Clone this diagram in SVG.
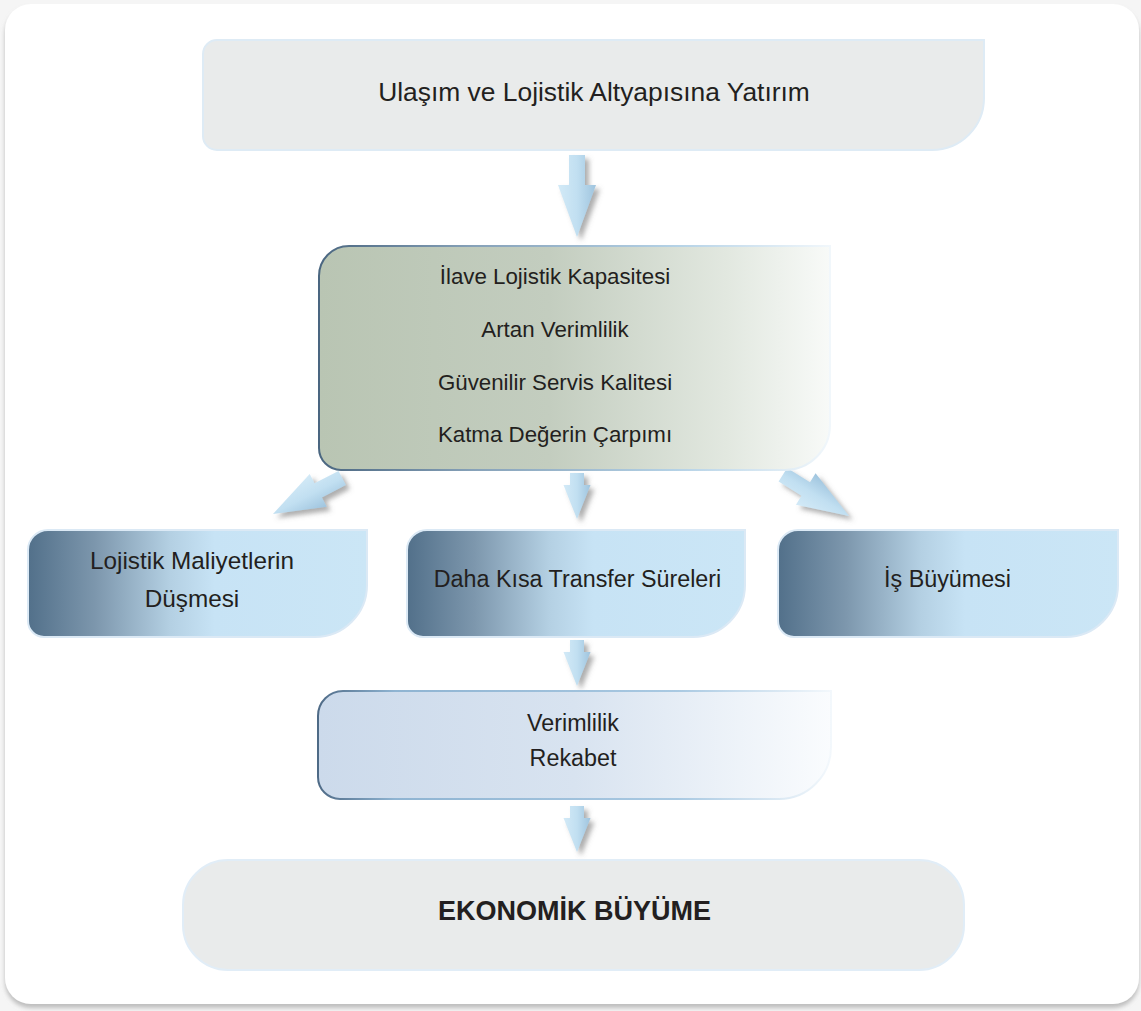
<svg xmlns="http://www.w3.org/2000/svg" width="1141" height="1011" viewBox="0 0 1141 1011">
<style>
.t{font-family:"Liberation Sans",Arial,sans-serif;fill:#231f20;text-anchor:middle}
.t1{font-size:26.4px}
.t2{font-size:22.3px}
.t3{font-size:23.3px}
.t4{font-size:24.3px}
.tb{font-size:27px;font-weight:bold}
.arr{fill:url(#gArr)}
</style>
<defs>
<linearGradient id="gArr" x1="0" y1="0" x2="1" y2="0">
<stop offset="0" stop-color="#d3eaf7"/>
<stop offset="0.5" stop-color="#c1dff1"/>
<stop offset="1" stop-color="#9fc4de"/>
</linearGradient>
<linearGradient id="gGreen" x1="0" y1="0" x2="1" y2="0">
<stop offset="0" stop-color="#b9c5b3"/>
<stop offset="0.45" stop-color="#c3cdbf"/>
<stop offset="0.8" stop-color="#e2e8e0"/>
<stop offset="1" stop-color="#f8faf8"/>
</linearGradient>
<linearGradient id="gGreenS" x1="0" y1="0" x2="1" y2="0">
<stop offset="0" stop-color="#4a6680"/>
<stop offset="0.3" stop-color="#86a1b8"/>
<stop offset="0.7" stop-color="#b5d2e6"/>
<stop offset="1" stop-color="#f1f7fb"/>
</linearGradient>
<linearGradient id="gRow" x1="0" y1="0" x2="1" y2="0">
<stop offset="0" stop-color="#52708a"/>
<stop offset="0.2" stop-color="#7d97ad"/>
<stop offset="0.42" stop-color="#b4d0e3"/>
<stop offset="0.55" stop-color="#c7e3f5"/>
<stop offset="1" stop-color="#cbe6f6"/>
</linearGradient>
<linearGradient id="gD" x1="0" y1="0" x2="1" y2="0">
<stop offset="0" stop-color="#ccdaeb"/>
<stop offset="0.5" stop-color="#d8e3f0"/>
<stop offset="1" stop-color="#fafcfe"/>
</linearGradient>
<linearGradient id="gDS" x1="0" y1="0" x2="1" y2="0">
<stop offset="0" stop-color="#4e6a86"/>
<stop offset="0.15" stop-color="#8fb4d2"/>
<stop offset="0.7" stop-color="#a9c9e2"/>
<stop offset="1" stop-color="#f3f8fc"/>
</linearGradient>
<filter id="sh" x="-50%" y="-50%" width="200%" height="200%">
<feDropShadow dx="4" dy="4" stdDeviation="2.5" flood-color="#6d6d6d" flood-opacity="0.55"/>
</filter>
<filter id="fsh" x="-5%" y="-5%" width="110%" height="110%">
<feDropShadow dx="0" dy="4" stdDeviation="2" flood-color="#9a9a9a" flood-opacity="0.6"/>
</filter>
<path id="arBig" d="M-8,-82 L8,-82 L8,-52 L19,-52 L0,0 L-19,-52 L-8,-52 Z"/>
<path id="arDiag" d="M-8,-78 L8,-78 L8,-51 L18.5,-51 L0,0 L-18.5,-51 L-8,-51 Z"/>
<path id="arSmall" d="M-7,-46 L7,-46 L7,-34 L13.5,-34 L0,0 L-13.5,-34 L-7,-34 Z"/>
</defs>

<rect x="0" y="0" width="1141" height="1011" fill="#f5f5f5"/>
<rect x="5" y="4" width="1134" height="1000" rx="26" fill="#ffffff" filter="url(#fsh)"/>

<g id="connectors">
<g filter="url(#sh)"><use href="#arBig" class="arr" transform="translate(577,237)"/></g>
<g filter="url(#sh)"><use href="#arDiag" class="arr" transform="translate(273,514) rotate(62.5)"/></g>
<g filter="url(#sh)"><use href="#arSmall" class="arr" transform="translate(577,519)"/></g>
<g filter="url(#sh)"><use href="#arDiag" class="arr" transform="translate(849,516) rotate(-58)"/></g>
<g filter="url(#sh)"><use href="#arSmall" class="arr" transform="translate(577,686)"/></g>
<g filter="url(#sh)"><use href="#arSmall" class="arr" transform="translate(577,852)"/></g>
</g>

<g id="node-yatirim">
<path d="M217,40 H984 V98 A52,52 0 0 1 932,150 H217 A14,14 0 0 1 203,136 V54 A14,14 0 0 1 217,40 Z" fill="#e9ebeb" stroke="#deebf5" stroke-width="2"/>
<text class="t t1" x="594" y="101">Ulaşım ve Lojistik Altyapısına Yatırım</text>
</g>

<g id="node-kapasite">
<path d="M349,246 H830 V425 A45,45 0 0 1 785,470 H341 A22,22 0 0 1 319,448 V276 A30,30 0 0 1 349,246 Z" fill="url(#gGreen)" stroke="url(#gGreenS)" stroke-width="2"/>
<text class="t t2" x="555" y="284">İlave Lojistik Kapasitesi</text>
<text class="t t2" x="555" y="337">Artan Verimlilik</text>
<text class="t t2" x="555" y="390">Güvenilir Servis Kalitesi</text>
<text class="t t2" x="555" y="442">Katma Değerin Çarpımı</text>
</g>

<g id="node-maliyet">
<path d="M48,530 H367 V585 A52,52 0 0 1 315,637 H44 A16,16 0 0 1 28,621 V550 A20,20 0 0 1 48,530 Z" fill="url(#gRow)" stroke="#dbe9f5" stroke-width="2"/>
<text class="t t4" x="192" y="569">Lojistik Maliyetlerin</text>
<text class="t t4" x="192" y="607">Düşmesi</text>
</g>

<g id="node-transfer">
<path d="M427,530 H745 V585 A52,52 0 0 1 693,637 H423 A16,16 0 0 1 407,621 V550 A20,20 0 0 1 427,530 Z" fill="url(#gRow)" stroke="#dbe9f5" stroke-width="2"/>
<text class="t t3" x="577.5" y="587">Daha Kısa Transfer Süreleri</text>
</g>

<g id="node-is">
<path d="M798,530 H1118 V585 A52,52 0 0 1 1066,637 H794 A16,16 0 0 1 778,621 V550 A20,20 0 0 1 798,530 Z" fill="url(#gRow)" stroke="#dbe9f5" stroke-width="2"/>
<text class="t t3" x="947.5" y="587">İş Büyümesi</text>
</g>

<g id="node-rekabet">
<path d="M343,691 H831 V747 A52,52 0 0 1 779,799 H340 A22,22 0 0 1 318,777 V716 A25,25 0 0 1 343,691 Z" fill="url(#gD)" stroke="url(#gDS)" stroke-width="2"/>
<text class="t t3" x="573" y="731">Verimlilik</text>
<text class="t t3" x="573" y="766">Rekabet</text>
</g>

<g id="node-ekonomik">
<rect x="183" y="860" width="781" height="110" rx="45" fill="#e9ebeb" stroke="#e1edf7" stroke-width="2"/>
<text class="t tb" x="574.5" y="920">EKONOMİK BÜYÜME</text>
</g>
</svg>
